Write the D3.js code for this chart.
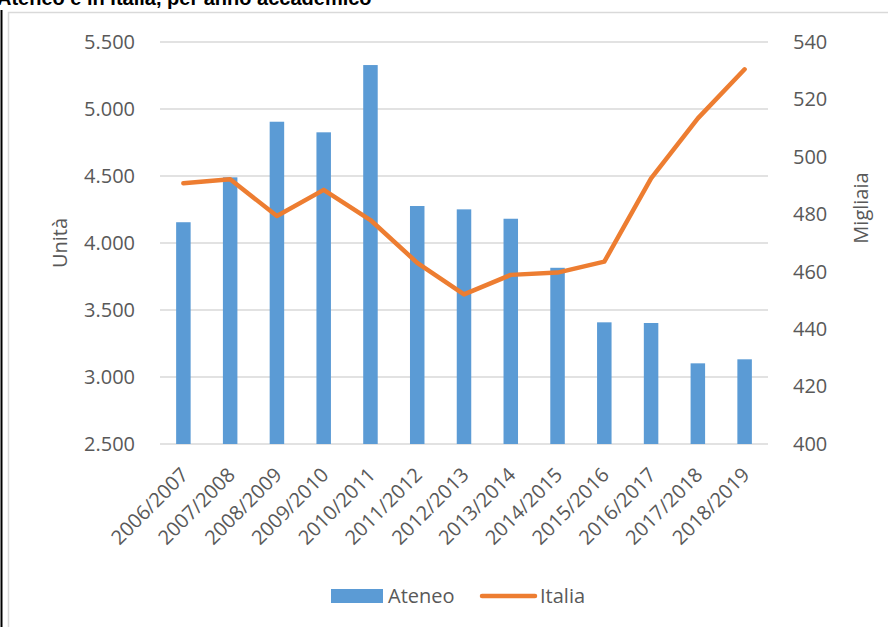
<!DOCTYPE html>
<html>
<head>
<meta charset="utf-8">
<script src="https://cdn.jsdelivr.net/npm/d3@7"></script>
<style>
  body { margin: 0; background: #fff; }
  svg text { font-family: "Open Sans", sans-serif; }
</style>
</head>
<body>
<svg width="888" height="627"></svg>
<script>
// dati
const anni = ['2006/2007', '2007/2008', '2008/2009', '2009/2010', '2010/2011', '2011/2012',
  '2012/2013', '2013/2014', '2014/2015', '2015/2016', '2016/2017', '2017/2018', '2018/2019'];
const ateneo = [4155, 4490, 4905, 4826, 5328, 4276, 4251, 4181, 3815, 3408, 3403, 3102, 3132];
const italia = [490.8, 492.2, 479.4, 488.5, 478.0, 463.1, 452.1, 458.9, 459.7, 463.5, 492.5, 513.4, 530.5];
const tickSx = [2500, 3000, 3500, 4000, 4500, 5000, 5500];
const tickDx = [400, 420, 440, 460, 480, 500, 520, 540];

const svg = d3.select('svg');
const WIDTH = +svg.attr('width');
const HEIGHT = +svg.attr('height');

const barColor = '#5B9BD5';
const lineColor = '#ED7D31';
const textColor = '#595959';
const gridColor = '#D9D9D9';

const margin = { top: 42, right: 120, bottom: 183, left: 160 };
const innerWidth = WIDTH - margin.left - margin.right;
const innerHeight = HEIGHT - margin.top - margin.bottom;

// titolo tagliato e cornice
svg.append('text')
  .text('Ateneo e in Italia, per anno accademico')
  .attr('x', -3)
  .attr('y', 5)
  .attr('fill', '#000')
  .style('font-family', '"Liberation Sans", Arial, sans-serif')
  .style('font-weight', 'bold')
  .style('font-size', '20px');

svg.append('rect')
  .attr('x', 8.5).attr('y', 12.5)
  .attr('width', 900).attr('height', 700)
  .attr('fill', 'none')
  .attr('stroke', '#D9D9D9')
  .attr('stroke-width', 1.5);

svg.append('line')
  .attr('x1', 1.5).attr('x2', 1.5)
  .attr('y1', 10).attr('y2', HEIGHT)
  .attr('stroke', '#000')
  .attr('stroke-width', 2);

const g = svg.append('g')
  .attr('transform', `translate(${margin.left},${margin.top})`);

// scale
const x = d3.scaleBand()
  .domain(anni)
  .range([0, innerWidth])
  .paddingInner(0.69)
  .paddingOuter(0.345);

const y = d3.scaleLinear()
  .domain([2500, 5500])
  .range([innerHeight, 0]);

const y2 = d3.scaleLinear()
  .domain([400, 540])
  .range([innerHeight, 0]);

// griglia
g.append('g')
  .selectAll('line')
  .data(tickSx)
  .join('line')
  .attr('x1', 0)
  .attr('x2', innerWidth)
  .attr('y1', d => y(d))
  .attr('y2', d => y(d))
  .attr('stroke', gridColor)
  .attr('stroke-width', 1.5);

// asse sinistro
const fmt = d3.formatLocale({ decimal: ',', thousands: '.', grouping: [3] }).format(',');
const axL = g.append('g')
  .attr('transform', 'translate(-22,0)')
  .call(d3.axisLeft(y).tickValues(tickSx).tickFormat(fmt).tickSize(0));
axL.select('.domain').remove();
axL.selectAll('text')
  .attr('fill', textColor)
  .style('font-size', '20px');

// asse destro
const axR = g.append('g')
  .attr('transform', `translate(${innerWidth + 22},0)`)
  .call(d3.axisRight(y2).tickValues(tickDx).tickSize(0));
axR.select('.domain').remove();
axR.selectAll('text')
  .attr('fill', textColor)
  .style('font-size', '20px');

// barre
g.append('g')
  .selectAll('rect')
  .data(anni)
  .join('rect')
  .attr('x', d => x(d))
  .attr('width', x.bandwidth())
  .attr('y', (d, i) => y(ateneo[i]))
  .attr('height', (d, i) => innerHeight - y(ateneo[i]))
  .attr('fill', barColor);

// linea
const linePath = d3.line()
  .x((d, i) => x(anni[i]) + x.bandwidth() / 2)
  .y(d => y2(d));

g.append('path')
  .attr('d', linePath(italia))
  .attr('fill', 'none')
  .attr('stroke', lineColor)
  .attr('stroke-width', 4.5)
  .attr('stroke-linecap', 'round')
  .attr('stroke-linejoin', 'round');

// etichette asse x
const axB = g.append('g')
  .attr('transform', `translate(0,${innerHeight})`)
  .call(d3.axisBottom(x).tickSize(0));
axB.select('.domain').remove();
axB.selectAll('text')
  .attr('fill', textColor)
  .style('font-size', '20px')
  .attr('text-anchor', 'end')
  .attr('dy', null)
  .attr('transform', 'translate(4,30) rotate(-45)');

// titoli assi
svg.append('text')
  .text('Unità')
  .attr('transform', 'translate(67,243) rotate(-90)')
  .attr('text-anchor', 'middle')
  .attr('fill', textColor)
  .style('font-size', '20px');

svg.append('text')
  .text('Migliaia')
  .attr('transform', 'translate(868,208) rotate(-90)')
  .attr('text-anchor', 'middle')
  .attr('fill', textColor)
  .style('font-size', '20px');

// legenda
const leg = svg.append('g');
leg.append('rect')
  .attr('x', 331).attr('y', 589)
  .attr('width', 52).attr('height', 14)
  .attr('fill', barColor);
leg.append('text')
  .text('Ateneo')
  .attr('x', 388).attr('y', 603)
  .attr('fill', textColor)
  .style('font-size', '20px');
leg.append('line')
  .attr('x1', 482).attr('x2', 535)
  .attr('y1', 596).attr('y2', 596)
  .attr('stroke', lineColor)
  .attr('stroke-width', 4.5)
  .attr('stroke-linecap', 'round');
leg.append('text')
  .text('Italia')
  .attr('x', 540).attr('y', 603)
  .attr('fill', textColor)
  .style('font-size', '20px');
</script>
</body>
</html>
